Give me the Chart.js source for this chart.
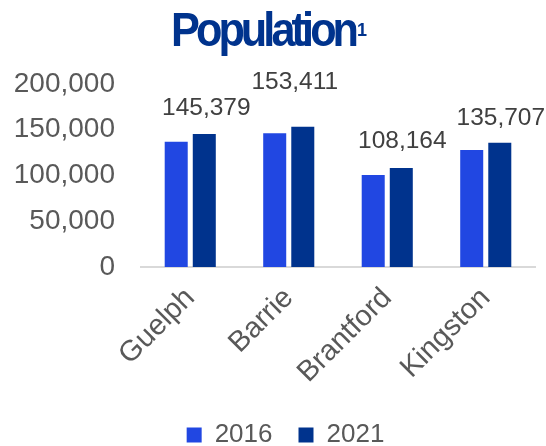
<!DOCTYPE html>
<html>
  <head>
    <meta charset="UTF-8" />
    <title>Population</title>
    <style>
      html, body { margin: 0; padding: 0; background: #fff; }
      #wrap { width: 546px; height: 446px; }
    </style>
  </head>
  <body>
    <div id="wrap"><canvas id="chart"></canvas></div>
    <script src="https://cdn.jsdelivr.net/npm/chart.js@4"></script>
    <script type="text/javascript">
      // cities and populations
      const cities = ["Guelph", "Barrie", "Brantford", "Kingston"];
      const pop2016 = [137000, 146100, 100500, 128000];
      const pop2021 = [145379, 153411, 108164, 135707];
      const yTicks = [0, 50000, 100000, 150000, 200000];

      const FONT = "'Liberation Sans', Arial, sans-serif";
      const fmt = (v) => v.toLocaleString("en-US");

      // heading: big bold word, squeezed, with a small superscript note mark
      const titlePlugin = {
        id: "tightTitle",
        afterDraw(chart) {
          const ctx = chart.ctx;
          const text = "Population";
          const sx = 0.9, x0 = 171, target = 188;
          ctx.save();
          ctx.fillStyle = "#00338d";
          ctx.textBaseline = "alphabetic";
          ctx.textAlign = "left";
          ctx.font = "bold 48px " + FONT;
          const natural = ctx.measureText(text).width;
          ctx.letterSpacing = ((target / sx - natural) / (text.length - 1)) + "px";
          ctx.translate(x0, 46);
          ctx.scale(sx, 1);
          ctx.fillText(text, 0, 0);
          ctx.restore();
          ctx.save();
          ctx.fillStyle = "#00338d";
          ctx.font = "bold 18px " + FONT;
          ctx.fillText("1", x0 + 186, 31);
          ctx.restore();
        },
      };

      // value labels above the 2021 bars only, a few nudged to keep clear of each other
      const valueLabels = {
        id: "valueLabels",
        afterDatasetsDraw(chart) {
          const nudge = [[2, 19], [-8, 38], [1, 20], [1, 18]];
          const ctx = chart.ctx;
          const meta = chart.getDatasetMeta(1);
          ctx.save();
          ctx.fillStyle = "#404040";
          ctx.font = "24.5px " + FONT;
          ctx.textAlign = "center";
          ctx.textBaseline = "alphabetic";
          meta.data.forEach((bar, i) => {
            const [dx, gap] = nudge[i];
            ctx.fillText(fmt(pop2021[i]), bar.x + dx, bar.y - gap);
          });
          ctx.restore();
        },
      };

      // nudge the legend a bit right
      const legendShift = {
        id: "legendShift",
        afterLayout(chart) {
          const lg = chart.legend;
          lg.left += 12;
          lg.right += 12;
          lg.top -= 2;
          lg.bottom -= 2;
        },
      };

      new Chart(document.getElementById("chart"), {
        type: "bar",
        data: {
          labels: cities,
          datasets: [
            { label: "2016", data: pop2016, backgroundColor: "#2147e2" },
            { label: "2021", data: pop2021, backgroundColor: "#00338d" },
          ],
        },
        options: {
          responsive: true,
          maintainAspectRatio: false,
          animation: false,
          categoryPercentage: 0.57,
          barPercentage: 0.82,
          layout: { padding: { top: 84, right: 11, left: 12, bottom: -14 } },
          scales: {
            x: {
              // rotated labels may hang past the left edge; keep the plot width fixed
              afterFit(scale) {
                scale.paddingLeft = 0;
                scale.paddingRight = 0;
                scale.height -= 6;
              },
              grid: { display: false, drawTicks: false },
              border: { display: true, color: "#d9d9d9", width: 2 },
              ticks: {
                color: "#595959",
                font: { size: 29, family: FONT },
                minRotation: 45,
                maxRotation: 45,
                padding: 14,
              },
            },
            y: {
              min: 0,
              max: 200000,
              afterBuildTicks(axis) {
                axis.ticks = yTicks.map((v) => ({ value: v }));
              },
              afterFit(scale) {
                scale.width = 129;
              },
              grid: { display: false, drawTicks: false },
              border: { display: false },
              ticks: {
                color: "#595959",
                font: { size: 28, family: FONT },
                padding: 26,
                callback: (v) => fmt(v),
              },
            },
          },
          plugins: {
            legend: {
              position: "bottom",
              labels: {
                color: "#595959",
                font: { size: 26, family: FONT },
                boxWidth: 15,
                boxHeight: 15,
                padding: 26,
              },
            },
            tooltip: { enabled: false },
          },
        },
        plugins: [titlePlugin, valueLabels, legendShift],
      });
    </script>
  </body>
</html>
